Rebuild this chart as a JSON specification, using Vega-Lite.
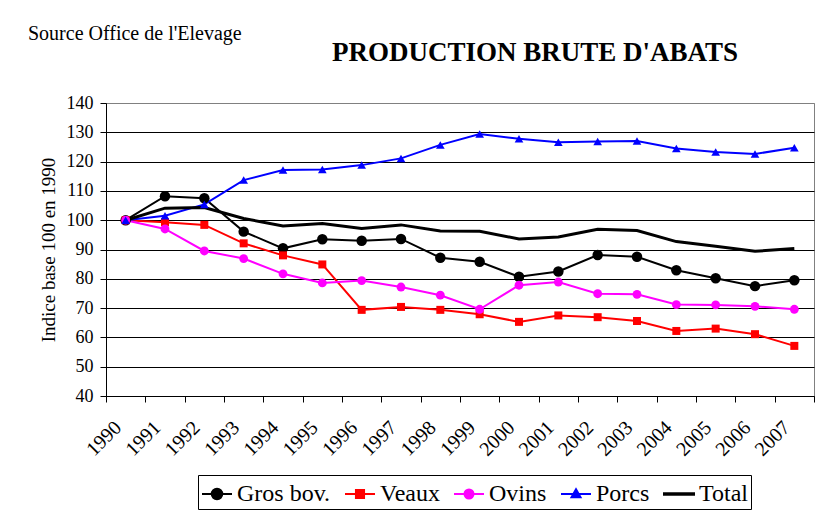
{
  "$schema": "https://vega.github.io/schema/vega-lite/v6.json",
  "padding": {"left": 28, "top": 23, "right": 0, "bottom": 60},
  "background": "white",
  "title": {"text": "Source Office de l'Elevage", "anchor": "start", "frame": "group", "dx": -78, "offset": -5, "fontSize": 20, "fontWeight": "normal", "font": "Liberation Serif", "color": "black"},
  "datasets": {
    "d": [
      {"series": "Gros bov.", "year": "1990", "value": 100},
      {"series": "Gros bov.", "year": "1991", "value": 108.2},
      {"series": "Gros bov.", "year": "1992", "value": 107.5},
      {"series": "Gros bov.", "year": "1993", "value": 96.1},
      {"series": "Gros bov.", "year": "1994", "value": 90.4},
      {"series": "Gros bov.", "year": "1995", "value": 93.5},
      {"series": "Gros bov.", "year": "1996", "value": 93.0},
      {"series": "Gros bov.", "year": "1997", "value": 93.6},
      {"series": "Gros bov.", "year": "1998", "value": 87.2},
      {"series": "Gros bov.", "year": "1999", "value": 85.8},
      {"series": "Gros bov.", "year": "2000", "value": 80.7},
      {"series": "Gros bov.", "year": "2001", "value": 82.5},
      {"series": "Gros bov.", "year": "2002", "value": 88.1},
      {"series": "Gros bov.", "year": "2003", "value": 87.5},
      {"series": "Gros bov.", "year": "2004", "value": 82.9},
      {"series": "Gros bov.", "year": "2005", "value": 80.2},
      {"series": "Gros bov.", "year": "2006", "value": 77.5},
      {"series": "Gros bov.", "year": "2007", "value": 79.5},
      {"series": "Veaux", "year": "1990", "value": 100},
      {"series": "Veaux", "year": "1991", "value": 99.3},
      {"series": "Veaux", "year": "1992", "value": 98.4},
      {"series": "Veaux", "year": "1993", "value": 92.1},
      {"series": "Veaux", "year": "1994", "value": 88.0},
      {"series": "Veaux", "year": "1995", "value": 84.9},
      {"series": "Veaux", "year": "1996", "value": 69.4},
      {"series": "Veaux", "year": "1997", "value": 70.4},
      {"series": "Veaux", "year": "1998", "value": 69.4},
      {"series": "Veaux", "year": "1999", "value": 67.9},
      {"series": "Veaux", "year": "2000", "value": 65.3},
      {"series": "Veaux", "year": "2001", "value": 67.5},
      {"series": "Veaux", "year": "2002", "value": 66.9},
      {"series": "Veaux", "year": "2003", "value": 65.6},
      {"series": "Veaux", "year": "2004", "value": 62.2},
      {"series": "Veaux", "year": "2005", "value": 63.0},
      {"series": "Veaux", "year": "2006", "value": 61.1},
      {"series": "Veaux", "year": "2007", "value": 57.1},
      {"series": "Ovins", "year": "1990", "value": 100},
      {"series": "Ovins", "year": "1991", "value": 97.0},
      {"series": "Ovins", "year": "1992", "value": 89.5},
      {"series": "Ovins", "year": "1993", "value": 86.9},
      {"series": "Ovins", "year": "1994", "value": 81.7},
      {"series": "Ovins", "year": "1995", "value": 78.6},
      {"series": "Ovins", "year": "1996", "value": 79.4},
      {"series": "Ovins", "year": "1997", "value": 77.2},
      {"series": "Ovins", "year": "1998", "value": 74.4},
      {"series": "Ovins", "year": "1999", "value": 69.6},
      {"series": "Ovins", "year": "2000", "value": 77.8},
      {"series": "Ovins", "year": "2001", "value": 78.9},
      {"series": "Ovins", "year": "2002", "value": 74.9},
      {"series": "Ovins", "year": "2003", "value": 74.7},
      {"series": "Ovins", "year": "2004", "value": 71.2},
      {"series": "Ovins", "year": "2005", "value": 71.1},
      {"series": "Ovins", "year": "2006", "value": 70.6},
      {"series": "Ovins", "year": "2007", "value": 69.6},
      {"series": "Porcs", "year": "1990", "value": 100},
      {"series": "Porcs", "year": "1991", "value": 101.5},
      {"series": "Porcs", "year": "1992", "value": 105.4},
      {"series": "Porcs", "year": "1993", "value": 113.7},
      {"series": "Porcs", "year": "1994", "value": 117.1},
      {"series": "Porcs", "year": "1995", "value": 117.3},
      {"series": "Porcs", "year": "1996", "value": 118.8},
      {"series": "Porcs", "year": "1997", "value": 121.1},
      {"series": "Porcs", "year": "1998", "value": 125.7},
      {"series": "Porcs", "year": "1999", "value": 129.4},
      {"series": "Porcs", "year": "2000", "value": 127.8},
      {"series": "Porcs", "year": "2001", "value": 126.6},
      {"series": "Porcs", "year": "2002", "value": 126.9},
      {"series": "Porcs", "year": "2003", "value": 127.0},
      {"series": "Porcs", "year": "2004", "value": 124.5},
      {"series": "Porcs", "year": "2005", "value": 123.3},
      {"series": "Porcs", "year": "2006", "value": 122.6},
      {"series": "Porcs", "year": "2007", "value": 124.7},
      {"series": "Total", "year": "1990", "value": 100},
      {"series": "Total", "year": "1991", "value": 104.1},
      {"series": "Total", "year": "1992", "value": 104.3},
      {"series": "Total", "year": "1993", "value": 100.6},
      {"series": "Total", "year": "1994", "value": 98.0},
      {"series": "Total", "year": "1995", "value": 98.9},
      {"series": "Total", "year": "1996", "value": 97.2},
      {"series": "Total", "year": "1997", "value": 98.4},
      {"series": "Total", "year": "1998", "value": 96.3},
      {"series": "Total", "year": "1999", "value": 96.2},
      {"series": "Total", "year": "2000", "value": 93.6},
      {"series": "Total", "year": "2001", "value": 94.3},
      {"series": "Total", "year": "2002", "value": 96.9},
      {"series": "Total", "year": "2003", "value": 96.5},
      {"series": "Total", "year": "2004", "value": 92.7},
      {"series": "Total", "year": "2005", "value": 91.1},
      {"series": "Total", "year": "2006", "value": 89.4},
      {"series": "Total", "year": "2007", "value": 90.3}
    ]
  },
  "vconcat": [
    {
      "title": {"text": "PRODUCTION BRUTE D'ABATS", "anchor": "middle", "frame": "group", "dx": 75, "offset": 27, "fontSize": 27, "fontWeight": "bold", "font": "Liberation Serif", "color": "black"},
      "width": 708,
      "height": 293,
      "data": {"name": "d"},
      "encoding": {
        "x": {"field": "year", "type": "ordinal", "bandPosition": 0.5,
          "scale": {"type": "band", "paddingInner": 0, "paddingOuter": 0},
          "axis": {"title": null, "labelAngle": -45, "labelAlign": "right", "labelBaseline": "top", "labelPadding": 15, "labelOffset": -15, "tickBand": "extent", "tickSize": 6, "grid": false, "labelFont": "Liberation Serif", "labelFontSize": 20, "labelColor": "black"}},
        "y": {"field": "value", "type": "quantitative",
          "scale": {"domain": [40, 140], "nice": false, "zero": false},
          "axis": {"title": "Indice base 100 en 1990", "values": [40, 50, 60, 70, 80, 90, 100, 110, 120, 130, 140], "grid": true, "gridColor": {"condition": {"test": "datum.value == 140", "value": "#808080"}, "value": "black"}, "gridWidth": 1, "tickSize": 6, "labelPadding": 7, "titlePadding": 8, "labelFont": "Liberation Serif", "labelFontSize": 18, "labelColor": "black", "titleFont": "Liberation Serif", "titleFontSize": 19, "titleFontWeight": "normal", "titleColor": "black"}}
      },
      "layer": [
        {
          "transform": [{"filter": "datum.series != 'Total'"}],
          "mark": {"type": "line", "strokeWidth": 2},
          "encoding": {
            "color": {"field": "series", "type": "nominal",
              "legend": {"orient": "none", "legendX": 92, "legendY": 372, "direction": "horizontal", "columns": 5, "title": null},
              "scale": {"domain": ["Gros bov.", "Veaux", "Ovins", "Porcs", "Total"], "range": ["#000000", "#FF0000", "#FF00FF", "#0000FF", "#000000"]}}
          }
        },
        {
          "transform": [{"filter": "datum.series == 'Total'"}],
          "mark": {"type": "line", "strokeWidth": 3, "color": "#000000"}
        },
        {
          "transform": [{"filter": "datum.series == 'Gros bov.'"}],
          "mark": {"type": "point", "filled": true, "shape": "circle", "size": 110, "color": "#000000", "opacity": 1}
        },
        {
          "transform": [{"filter": "datum.series == 'Veaux'"}],
          "mark": {"type": "point", "filled": true, "shape": "square", "size": 64, "color": "#FF0000", "opacity": 1}
        },
        {
          "transform": [{"filter": "datum.series == 'Ovins'"}],
          "mark": {"type": "point", "filled": true, "shape": "circle", "size": 78, "color": "#FF00FF", "opacity": 1}
        },
        {
          "transform": [{"filter": "datum.series == 'Porcs'"}],
          "mark": {"type": "point", "filled": true, "shape": "triangle-up", "size": 75, "color": "#0000FF", "opacity": 1}
        },
        {
          "mark": {"type": "point", "opacity": 0, "strokeWidth": 2},
          "encoding": {
            "fill": {"field": "series", "type": "nominal",
              "scale": {"domain": ["Gros bov.", "Veaux", "Ovins", "Porcs", "Total"], "range": ["#000000", "#FF0000", "#FF00FF", "#0000FF", "#000000"]},
              "legend": {"orient": "none", "legendX": 92, "legendY": 372, "direction": "horizontal", "columns": 5, "title": null}},
            "stroke": {"field": "series", "type": "nominal",
              "scale": {"domain": ["Gros bov.", "Veaux", "Ovins", "Porcs", "Total"], "range": ["#000000", "#FF0000", "#FF00FF", "#0000FF", "#000000"]},
              "legend": {"orient": "none", "legendX": 92, "legendY": 372, "direction": "horizontal", "columns": 5, "title": null}},
            "shape": {"field": "series", "type": "nominal",
              "scale": {"domain": ["Gros bov.", "Veaux", "Ovins", "Porcs", "Total"], "range": [
                "M-1,0L1,0M0.35,0A0.35,0.35,0,1,1,-0.35,0A0.35,0.35,0,1,1,0.35,0Z",
                "M-1,0L1,0M-0.27,-0.27H0.27V0.27H-0.27Z",
                "M-1,0L1,0M0.3,0A0.3,0.3,0,1,1,-0.3,0A0.3,0.3,0,1,1,0.3,0Z",
                "M-1,0L1,0M0,-0.32L0.3,0.22H-0.3Z",
                "M-1,-0.05H1V0.05H-1Z"]},
              "legend": {"orient": "none", "legendX": 92, "legendY": 372, "direction": "horizontal", "columns": 5, "title": null}}
          }
        }
      ]
    }
  ],
  "config": {
    "font": "Liberation Serif",
    "view": {"stroke": "#808080", "strokeWidth": 1},
    "axis": {"labelFont": "Liberation Serif", "titleFont": "Liberation Serif", "labelColor": "black", "titleColor": "black", "domainColor": "black", "tickColor": "black", "titleFontWeight": "normal", "domainWidth": 1, "tickWidth": 1},
    "legend": {"labelFont": "Liberation Serif", "labelFontSize": 24, "labelColor": "black", "symbolSize": 900, "symbolStrokeWidth": 2, "labelOffset": 4, "columnPadding": 10, "padding": 3, "strokeColor": "black", "fillColor": "white", "cornerRadius": 0, "symbolOpacity": 1}
  }
}
